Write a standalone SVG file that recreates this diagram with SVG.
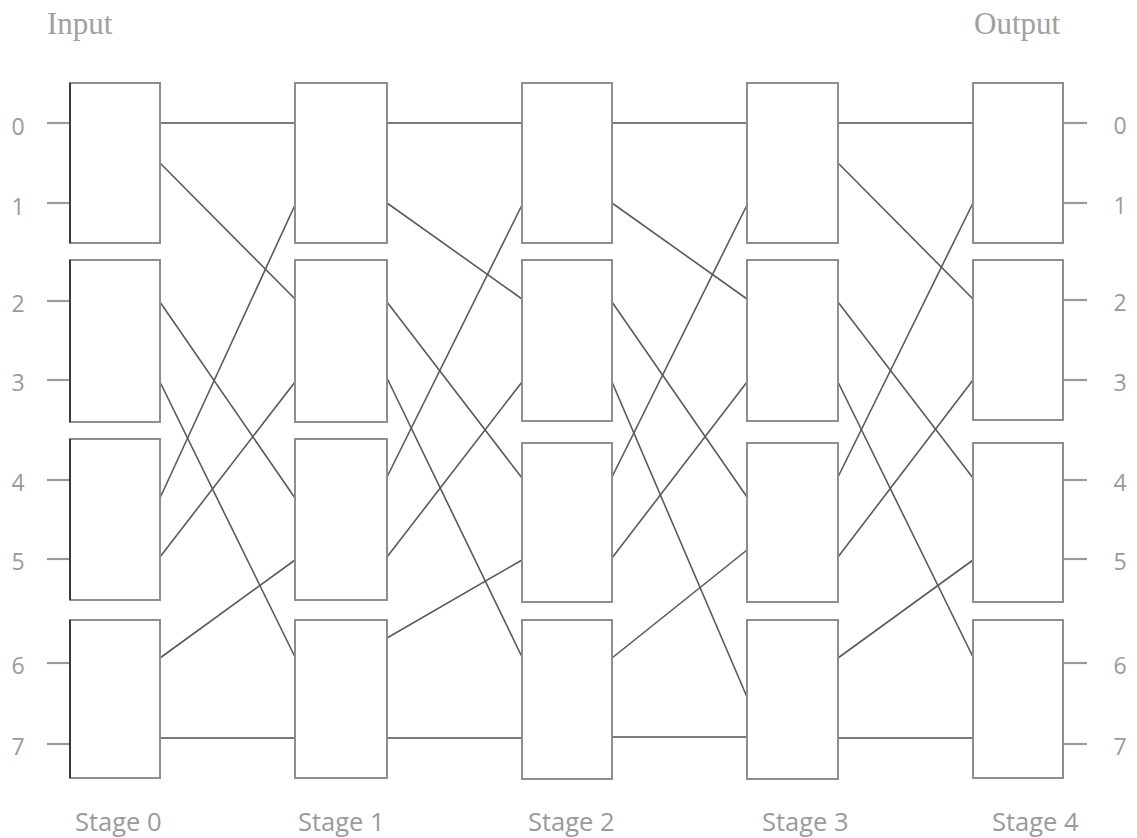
<svg xmlns="http://www.w3.org/2000/svg" width="1137" height="838" viewBox="0 0 1137 838">
<style>
.box{fill:#fff;stroke:#8e8e8e;stroke-width:2}
.edge{stroke:#3a3a3a;stroke-width:2}
.c{stroke:#5a5a5a;stroke-width:1.6;fill:none}
.h{stroke:#7a7a7a;stroke-width:2;fill:none}
.stub{stroke:#9a9a9a;stroke-width:2.2}
.num{font-family:"Open Sans","Noto Sans",sans-serif;font-size:23px;fill:#9a9a9a;text-anchor:middle}
.stage{font-family:"Open Sans","Noto Sans",sans-serif;font-size:25.5px;fill:#9a9a9a}
.io{font-family:"Liberation Serif",serif;font-size:31px;fill:#a0a0a0}
</style>
<rect width="1137" height="838" fill="#fff"/>
<text class="io" x="47" y="34">Input</text>
<text class="io" x="974" y="34">Output</text>
<g id="connectors">
<g id="stubs">
<line class="stub" x1="47" y1="123" x2="70" y2="123"/>
<line class="stub" x1="47" y1="203" x2="70" y2="203"/>
<line class="stub" x1="47" y1="301" x2="70" y2="301"/>
<line class="stub" x1="47" y1="380" x2="70" y2="380"/>
<line class="stub" x1="47" y1="480" x2="70" y2="480"/>
<line class="stub" x1="47" y1="559" x2="70" y2="559"/>
<line class="stub" x1="47" y1="663" x2="70" y2="663"/>
<line class="stub" x1="47" y1="744" x2="70" y2="744"/>
<line class="stub" x1="1063" y1="123" x2="1087" y2="123"/>
<line class="stub" x1="1063" y1="203" x2="1087" y2="203"/>
<line class="stub" x1="1063" y1="300" x2="1087" y2="300"/>
<line class="stub" x1="1063" y1="380" x2="1087" y2="380"/>
<line class="stub" x1="1063" y1="480" x2="1087" y2="480"/>
<line class="stub" x1="1063" y1="559" x2="1087" y2="559"/>
<line class="stub" x1="1063" y1="663" x2="1087" y2="663"/>
<line class="stub" x1="1063" y1="744" x2="1087" y2="744"/>
</g>
<g id="s0-s1">
<line class="h" x1="160" y1="123" x2="295" y2="123"/>
<line class="c" x1="160" y1="163" x2="295" y2="299"/>
<line class="c" x1="160" y1="498" x2="295" y2="205"/>
<line class="c" x1="160" y1="302" x2="295" y2="498"/>
<line class="c" x1="160" y1="382" x2="295" y2="657"/>
<line class="c" x1="160" y1="557" x2="295" y2="382"/>
<line class="c" x1="160" y1="658" x2="295" y2="560"/>
<line class="h" x1="160" y1="738" x2="295" y2="738"/>
</g>
<g id="s1-s2">
<line class="h" x1="387" y1="123" x2="522" y2="123"/>
<line class="c" x1="387" y1="203" x2="522" y2="299"/>
<line class="c" x1="387" y1="477" x2="522" y2="205"/>
<line class="c" x1="387" y1="302" x2="522" y2="478"/>
<line class="c" x1="387" y1="378" x2="522" y2="657"/>
<line class="c" x1="387" y1="557" x2="522" y2="382"/>
<line class="c" x1="387" y1="638" x2="522" y2="560"/>
<line class="h" x1="387" y1="738" x2="522" y2="738"/>
</g>
<g id="s2-s3">
<line class="h" x1="612" y1="123" x2="747" y2="123"/>
<line class="c" x1="612" y1="203" x2="747" y2="299"/>
<line class="c" x1="612" y1="477" x2="747" y2="205"/>
<line class="c" x1="612" y1="302" x2="747" y2="497"/>
<line class="c" x1="612" y1="382" x2="747" y2="697"/>
<line class="c" x1="612" y1="558" x2="747" y2="382"/>
<line class="c" x1="612" y1="658" x2="747" y2="550"/>
<line class="h" x1="612" y1="737" x2="747" y2="737"/>
</g>
<g id="s3-s4">
<line class="h" x1="838" y1="123" x2="973" y2="123"/>
<line class="c" x1="838" y1="163" x2="973" y2="299"/>
<line class="c" x1="838" y1="477" x2="973" y2="203"/>
<line class="c" x1="838" y1="302" x2="973" y2="478"/>
<line class="c" x1="838" y1="382" x2="973" y2="657"/>
<line class="c" x1="838" y1="557" x2="973" y2="380"/>
<line class="c" x1="838" y1="658" x2="973" y2="560"/>
<line class="h" x1="838" y1="738" x2="973" y2="738"/>
</g>
</g>
<g id="stage0">
<g id="s0b0"><rect class="box" x="70" y="83" width="90" height="160"/><line class="edge" x1="70" y1="83" x2="70" y2="243"/></g>
<g id="s0b1"><rect class="box" x="70" y="260" width="90" height="162"/><line class="edge" x1="70" y1="260" x2="70" y2="422"/></g>
<g id="s0b2"><rect class="box" x="70" y="439" width="90" height="161"/><line class="edge" x1="70" y1="439" x2="70" y2="600"/></g>
<g id="s0b3"><rect class="box" x="70" y="620" width="90" height="158"/><line class="edge" x1="70" y1="620" x2="70" y2="778"/></g>
</g>
<g id="stage1">
<rect id="s1b0" class="box" x="295" y="83" width="92" height="160"/>
<rect id="s1b1" class="box" x="295" y="260" width="92" height="162"/>
<rect id="s1b2" class="box" x="295" y="439" width="92" height="161"/>
<rect id="s1b3" class="box" x="295" y="620" width="92" height="158"/>
</g>
<g id="stage2">
<rect id="s2b0" class="box" x="522" y="83" width="90" height="160"/>
<rect id="s2b1" class="box" x="522" y="260" width="90" height="161"/>
<rect id="s2b2" class="box" x="522" y="443" width="90" height="159"/>
<rect id="s2b3" class="box" x="522" y="620" width="90" height="159"/>
</g>
<g id="stage3">
<rect id="s3b0" class="box" x="747" y="83" width="91" height="160"/>
<rect id="s3b1" class="box" x="747" y="260" width="91" height="161"/>
<rect id="s3b2" class="box" x="747" y="443" width="91" height="159"/>
<rect id="s3b3" class="box" x="747" y="620" width="91" height="159"/>
</g>
<g id="stage4">
<rect id="s4b0" class="box" x="973" y="83" width="90" height="160"/>
<rect id="s4b1" class="box" x="973" y="260" width="90" height="160"/>
<rect id="s4b2" class="box" x="973" y="443" width="90" height="159"/>
<rect id="s4b3" class="box" x="973" y="620" width="90" height="158"/>
</g>
<g id="labels">
<text class="num" x="18" y="135">0</text>
<text class="num" x="18" y="215">1</text>
<text class="num" x="18" y="312">2</text>
<text class="num" x="18" y="391">3</text>
<text class="num" x="18" y="491">4</text>
<text class="num" x="18" y="570">5</text>
<text class="num" x="18" y="674">6</text>
<text class="num" x="18" y="755">7</text>
<text class="num" x="1120" y="134">0</text>
<text class="num" x="1120" y="214">1</text>
<text class="num" x="1120" y="311">2</text>
<text class="num" x="1120" y="391">3</text>
<text class="num" x="1120" y="491">4</text>
<text class="num" x="1120" y="570">5</text>
<text class="num" x="1120" y="674">6</text>
<text class="num" x="1120" y="755">7</text>
<text class="stage" x="75" y="831">Stage 0</text>
<text class="stage" x="298" y="831">Stage 1</text>
<text class="stage" x="528" y="831">Stage 2</text>
<text class="stage" x="762" y="831">Stage 3</text>
<text class="stage" x="992" y="831">Stage 4</text>
</g>
</svg>
